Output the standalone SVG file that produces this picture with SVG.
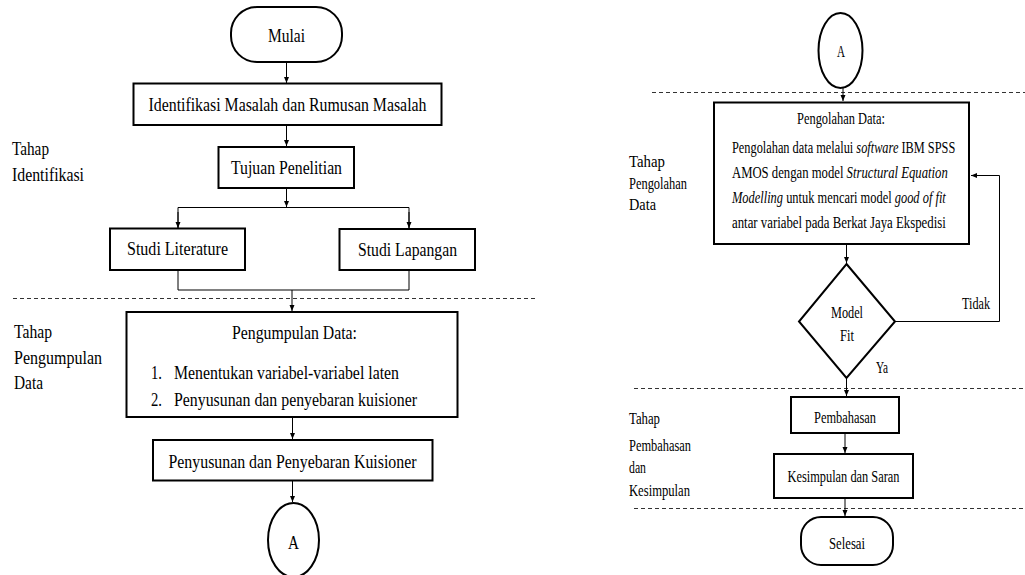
<svg xmlns="http://www.w3.org/2000/svg" width="1025" height="575" viewBox="0 0 1025 575">
<style>
text{font-family:"Liberation Serif","Times New Roman",serif;fill:#000}
.l{font-size:19px}
.r{font-size:17px}
.c{text-anchor:middle}
.i{font-style:italic}
.box{fill:#fff;stroke:#000;stroke-width:2}
.ln{fill:none;stroke:#000;stroke-width:1}
.dash{fill:none;stroke:#333;stroke-width:1;stroke-dasharray:4 3}
</style>
<defs>
<marker id="ah" markerUnits="userSpaceOnUse" markerWidth="7" markerHeight="7" refX="6" refY="3" orient="auto">
<path d="M0,0.5 L6,3 L0,5.5 Z" fill="#000"/>
</marker>
</defs>
<rect width="1025" height="575" fill="#fff"/>

<g id="dividers">
<line class="dash" x1="13" y1="298.5" x2="538" y2="298.5"/>
<line class="dash" x1="652" y1="92.5" x2="1025" y2="92.5"/>
<line class="dash" x1="634" y1="388.5" x2="1025" y2="388.5"/>
<line class="dash" x1="634" y1="508.5" x2="1025" y2="508.5"/>
</g>

<g id="stage-labels">
<text class="l" x="12" y="155" textLength="37" lengthAdjust="spacingAndGlyphs">Tahap</text>
<text class="l" x="12" y="181" textLength="72" lengthAdjust="spacingAndGlyphs">Identifikasi</text>
<text class="l" x="14" y="338" textLength="38" lengthAdjust="spacingAndGlyphs">Tahap</text>
<text class="l" x="14" y="364" textLength="88" lengthAdjust="spacingAndGlyphs">Pengumpulan</text>
<text class="l" x="14" y="389" textLength="29" lengthAdjust="spacingAndGlyphs">Data</text>
<text class="r" x="629" y="167" textLength="36" lengthAdjust="spacingAndGlyphs">Tahap</text>
<text class="r" x="629" y="189" textLength="58" lengthAdjust="spacingAndGlyphs">Pengolahan</text>
<text class="r" x="629" y="210" textLength="27" lengthAdjust="spacingAndGlyphs">Data</text>
<text class="r" x="629" y="424" textLength="31" lengthAdjust="spacingAndGlyphs">Tahap</text>
<text class="r" x="629" y="451" textLength="62" lengthAdjust="spacingAndGlyphs">Pembahasan</text>
<text class="r" x="629" y="473" textLength="17" lengthAdjust="spacingAndGlyphs">dan</text>
<text class="r" x="629" y="496" textLength="61" lengthAdjust="spacingAndGlyphs">Kesimpulan</text>
</g>

<g id="connectors">
<line class="ln" x1="286.5" y1="62" x2="286.5" y2="83" marker-end="url(#ah)"/>
<line class="ln" x1="286.5" y1="125" x2="286.5" y2="146" marker-end="url(#ah)"/>
<line class="ln" x1="286.5" y1="188" x2="286.5" y2="207" marker-end="url(#ah)"/>
<polyline class="ln" points="178,228 178,207.5 409,207.5 409,228"/>
<line class="ln" x1="178" y1="212" x2="178" y2="228" marker-end="url(#ah)"/>
<line class="ln" x1="409" y1="212" x2="409" y2="228" marker-end="url(#ah)"/>
<polyline class="ln" points="178,270 178,290 409,290 409,270"/>
<line class="ln" x1="292" y1="290" x2="292" y2="311" marker-end="url(#ah)"/>
<line class="ln" x1="292.5" y1="417" x2="292.5" y2="439" marker-end="url(#ah)"/>
<line class="ln" x1="292.5" y1="481" x2="292.5" y2="502" marker-end="url(#ah)"/>
<line class="ln" x1="843" y1="88" x2="843" y2="101" marker-end="url(#ah)"/>
<line class="ln" x1="846.5" y1="244" x2="846.5" y2="263" marker-end="url(#ah)"/>
<line class="ln" x1="846.5" y1="378" x2="846.5" y2="396" marker-end="url(#ah)"/>
<line class="ln" x1="845" y1="433" x2="845" y2="453" marker-end="url(#ah)"/>
<line class="ln" x1="845" y1="498" x2="845" y2="516" marker-end="url(#ah)"/>
<polyline class="ln" points="895,321.5 999.5,321.5 999.5,175.5 971,175.5" marker-end="url(#ah)"/>
<text class="r" x="962" y="308.5" textLength="28" lengthAdjust="spacingAndGlyphs">Tidak</text>
<text class="r" x="876" y="372.5" textLength="12" lengthAdjust="spacingAndGlyphs">Ya</text>
</g>

<g id="mulai">
<rect class="box" x="231" y="7" width="111" height="55" rx="26" ry="26"/>
<text class="l c" x="286.5" y="42" textLength="37" lengthAdjust="spacingAndGlyphs">Mulai</text>
</g>
<g id="identifikasi">
<rect class="box" x="133.5" y="83.5" width="308" height="41.5"/>
<text class="l c" x="287.5" y="111" textLength="278" lengthAdjust="spacingAndGlyphs">Identifikasi Masalah dan Rumusan Masalah</text>
</g>
<g id="tujuan">
<rect class="box" x="218.5" y="147" width="135.5" height="41"/>
<text class="l c" x="286.5" y="174" textLength="111" lengthAdjust="spacingAndGlyphs">Tujuan Penelitian</text>
</g>
<g id="studi-literature">
<rect class="box" x="110" y="228.5" width="135" height="41.5"/>
<text class="l c" x="177.5" y="254.5" textLength="101" lengthAdjust="spacingAndGlyphs">Studi Literature</text>
</g>
<g id="studi-lapangan">
<rect class="box" x="339.5" y="229" width="135.5" height="41"/>
<text class="l c" x="407.5" y="256" textLength="99" lengthAdjust="spacingAndGlyphs">Studi Lapangan</text>
</g>
<g id="pengumpulan">
<rect class="box" x="126.5" y="312" width="331" height="105"/>
<text class="l c" x="294.5" y="339" textLength="125" lengthAdjust="spacingAndGlyphs">Pengumpulan Data:</text>
<text class="l" x="151" y="379" textLength="11" lengthAdjust="spacingAndGlyphs">1.</text>
<text class="l" x="174" y="379" textLength="225" lengthAdjust="spacingAndGlyphs">Menentukan variabel-variabel laten</text>
<text class="l" x="151" y="406" textLength="11" lengthAdjust="spacingAndGlyphs">2.</text>
<text class="l" x="174" y="406" textLength="243" lengthAdjust="spacingAndGlyphs">Penyusunan dan penyebaran kuisioner</text>
</g>
<g id="penyusunan">
<rect class="box" x="153" y="440" width="279.5" height="40.5"/>
<text class="l c" x="292.5" y="468" textLength="248" lengthAdjust="spacingAndGlyphs">Penyusunan dan Penyebaran Kuisioner</text>
</g>
<g id="connector-a-out">
<ellipse class="box" cx="293.5" cy="540" rx="25.5" ry="37"/>
<text class="l c" x="293.5" y="549" textLength="11" lengthAdjust="spacingAndGlyphs">A</text>
</g>

<g id="connector-a-in">
<ellipse class="box" cx="840.5" cy="50.5" rx="22" ry="37.5"/>
<text class="r c" x="841" y="57" textLength="8" lengthAdjust="spacingAndGlyphs">A</text>
</g>
<g id="pengolahan">
<rect class="box" x="714" y="102.5" width="255" height="141.5"/>
<text class="r c" x="841" y="123.5" textLength="88" lengthAdjust="spacingAndGlyphs">Pengolahan Data:</text>
<text class="r" transform="translate(732,152.5) scale(0.726,1)">Pengolahan data melalui <tspan class="i">software</tspan> IBM SPSS</text>
<text class="r" transform="translate(732,177.5) scale(0.747,1)">AMOS dengan model <tspan class="i">Structural Equation</tspan></text>
<text class="r" transform="translate(732,202.5) scale(0.731,1)"><tspan class="i">Modelling</tspan> untuk mencari model <tspan class="i">good of fit</tspan></text>
<text class="r" transform="translate(732,227.5) scale(0.754,1)">antar variabel pada Berkat Jaya Ekspedisi</text>
</g>
<g id="model-fit">
<polygon class="box" points="846.5,264 895,321.5 846.5,378 799,321.5"/>
<text class="r c" x="847" y="317.5" textLength="32" lengthAdjust="spacingAndGlyphs">Model</text>
<text class="r c" x="847" y="340.5" textLength="14" lengthAdjust="spacingAndGlyphs">Fit</text>
</g>
<g id="pembahasan">
<rect class="box" x="791" y="397" width="108" height="36"/>
<text class="r c" x="845" y="422.5" textLength="62" lengthAdjust="spacingAndGlyphs">Pembahasan</text>
</g>
<g id="kesimpulan">
<rect class="box" x="774" y="454" width="139" height="44"/>
<text class="r c" x="843.5" y="481.5" textLength="112" lengthAdjust="spacingAndGlyphs">Kesimpulan dan Saran</text>
</g>
<g id="selesai">
<rect class="box" x="801" y="517" width="92" height="48" rx="20" ry="20"/>
<text class="r c" x="847" y="548.5" textLength="36" lengthAdjust="spacingAndGlyphs">Selesai</text>
</g>
</svg>
